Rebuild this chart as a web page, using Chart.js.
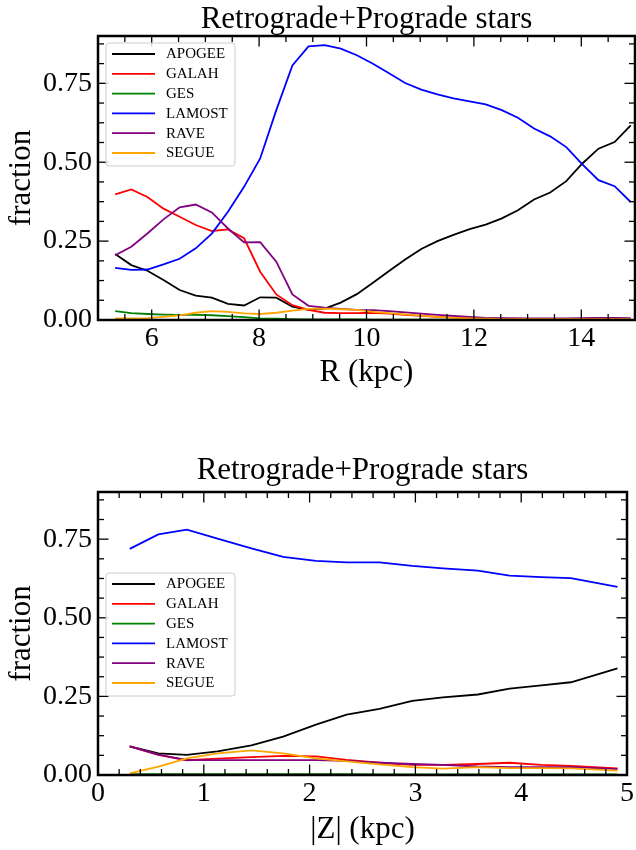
<!DOCTYPE html>
<html>
<head>
<meta charset="utf-8">
<script src="https://cdn.jsdelivr.net/npm/chart.js@4/dist/chart.umd.min.js"></script>
<style>
  html, body { margin: 0; padding: 0; background: #fff; }
  canvas { display: block; }
</style>
</head>
<body>
<canvas id="top" width="636" height="425"></canvas>
<canvas id="bottom" width="636" height="425"></canvas>
<script>
// ---------- DATA ----------
const surveys = ['APOGEE', 'GALAH', 'GES', 'LAMOST', 'RAVE', 'SEGUE'];
const colors = ['#000000', '#ff0000', '#008000', '#0000ff', '#800080', '#ffa500'];

// Top panel: fraction vs R (kpc)
const R = [5.32, 5.62, 5.92, 6.22, 6.52, 6.82, 7.12, 7.42, 7.72, 8.02, 8.32, 8.62, 8.92, 9.22, 9.52, 9.82,
           10.12, 10.42, 10.72, 11.02, 11.32, 11.62, 11.92, 12.22, 12.52, 12.82, 13.12, 13.42, 13.72, 14.02, 14.32, 14.62, 14.92];
const apogeeR = [0.209, 0.174, 0.156, 0.127, 0.095, 0.077, 0.071, 0.051, 0.046, 0.072, 0.071, 0.042, 0.032, 0.036, 0.055, 0.082,
                 0.118, 0.155, 0.192, 0.225, 0.250, 0.270, 0.288, 0.302, 0.322, 0.348, 0.382, 0.404, 0.440, 0.496, 0.543, 0.564, 0.617];
const galahR  = [0.398, 0.414, 0.390, 0.353, 0.327, 0.301, 0.282, 0.287, 0.259, 0.153, 0.081, 0.047, 0.032, 0.023, 0.022, 0.022,
                 0.023, 0.020, 0.016, 0.013, 0.010, 0.008, 0.006, 0.005, 0.004, 0.004, 0.003, 0.003, 0.003, 0.004, 0.005, 0.004, 0.003];
const gesR    = [0.028, 0.022, 0.019, 0.017, 0.016, 0.016, 0.015, 0.012, 0.009, 0.005, 0.004, 0.003, 0.002, 0.002, 0.002, 0.002,
                 0.001, 0.001, 0.001, 0.001, 0.001, 0.001, 0.001, 0.001, 0.001, 0.001, 0.001, 0.001, 0.001, 0.001, 0.001, 0.001, 0.001];
const lamostR = [0.165, 0.159, 0.160, 0.176, 0.194, 0.227, 0.274, 0.343, 0.422, 0.512, 0.665, 0.807, 0.867, 0.871, 0.860, 0.839,
                 0.812, 0.782, 0.751, 0.730, 0.715, 0.702, 0.693, 0.683, 0.665, 0.641, 0.607, 0.582, 0.548, 0.493, 0.443, 0.424, 0.374];
const raveR   = [0.205, 0.232, 0.274, 0.319, 0.357, 0.366, 0.341, 0.290, 0.246, 0.247, 0.185, 0.081, 0.045, 0.039, 0.035, 0.032,
                 0.031, 0.028, 0.024, 0.020, 0.016, 0.013, 0.010, 0.007, 0.006, 0.005, 0.005, 0.005, 0.005, 0.006, 0.007, 0.007, 0.006];
const segueR  = [0.005, 0.005, 0.006, 0.010, 0.015, 0.023, 0.028, 0.026, 0.021, 0.019, 0.023, 0.030, 0.035, 0.036, 0.034, 0.032,
                 0.026, 0.022, 0.018, 0.014, 0.010, 0.007, 0.005, 0.004, 0.003, 0.003, 0.003, 0.003, 0.003, 0.003, 0.003, 0.003, 0.003];

// Bottom panel: fraction vs |Z| (kpc)
const Z = [0.30, 0.57, 0.84, 1.13, 1.45, 1.75, 2.06, 2.35, 2.66, 2.97, 3.26, 3.59, 3.89, 4.19, 4.47, 4.91];
const apogeeZ = [0.091, 0.069, 0.064, 0.075, 0.094, 0.122, 0.160, 0.192, 0.210, 0.236, 0.247, 0.256, 0.275, 0.285, 0.295, 0.339];
const galahZ  = [0.091, 0.064, 0.047, 0.052, 0.057, 0.061, 0.059, 0.048, 0.039, 0.032, 0.032, 0.035, 0.039, 0.032, 0.029, 0.021];
const gesZ    = [0.003, 0.003, 0.003, 0.003, 0.003, 0.003, 0.003, 0.003, 0.002, 0.002, 0.002, 0.002, 0.002, 0.002, 0.002, 0.002];
const lamostZ = [0.719, 0.765, 0.780, 0.752, 0.721, 0.694, 0.681, 0.676, 0.676, 0.665, 0.657, 0.650, 0.634, 0.629, 0.626, 0.598];
const raveZ   = [0.091, 0.065, 0.047, 0.047, 0.047, 0.047, 0.047, 0.045, 0.039, 0.035, 0.032, 0.027, 0.025, 0.025, 0.025, 0.019];
const segueZ  = [0.005, 0.027, 0.053, 0.069, 0.078, 0.069, 0.053, 0.043, 0.034, 0.025, 0.020, 0.025, 0.022, 0.022, 0.021, 0.014];

// Tick labels
const yTicks = [0, 0.25, 0.5, 0.75];
const rTicks = [6, 8, 10, 12, 14];
const zTicks = [0, 1, 2, 3, 4, 5];

const titleText = 'Retrograde+Prograde stars';
const yTitle = 'fraction';
const rTitle = 'R (kpc)';
const zTitle = '|Z| (kpc)';

// ---------- RENDERING ----------
const FONT = "'Liberation Serif', 'Times New Roman', serif";

function makeDatasets(xs, series) {
  return series.map((ys, i) => ({
    label: surveys[i],
    data: xs.map((x, k) => ({ x: x, y: ys[k] })),
    borderColor: colors[i],
    backgroundColor: colors[i],
    borderWidth: 1.8,
    pointRadius: 0,
    tension: 0,
    fill: false,
    order: series.length - i
  }));
}

const frameTicks = {
  id: 'frameTicks',
  afterDatasetsDraw(chart, args, opts) {
    const { ctx, chartArea: a, scales: { x, y } } = chart;
    ctx.save();
    ctx.strokeStyle = '#000';
    const seg = (x1, y1, x2, y2) => { ctx.beginPath(); ctx.moveTo(x1, y1); ctx.lineTo(x2, y2); ctx.stroke(); };
    const eps = 1e-9;
    // x ticks
    ctx.lineWidth = 1.3;
    for (let v = x.min; v <= x.max + eps; v += opts.xMinor) {
      const vv = Math.round(v * 1000) / 1000;
      const isMajor = Math.abs(vv / opts.xMajor - Math.round(vv / opts.xMajor)) < 1e-6;
      const len = isMajor ? 10.5 : 6;
      const px = x.getPixelForValue(vv);
      seg(px, a.bottom, px, a.bottom - len);
      seg(px, a.top, px, a.top + len);
    }
    for (let v = y.min; v <= y.max + eps; v += opts.yMinor) {
      const vv = Math.round(v * 10000) / 10000;
      const isMajor = Math.abs(vv / opts.yMajor - Math.round(vv / opts.yMajor)) < 1e-6;
      const len = isMajor ? 10.5 : 6;
      const py = y.getPixelForValue(vv);
      seg(a.left, py, a.left + len, py);
      seg(a.right, py, a.right - len, py);
    }
    ctx.lineWidth = 2.5;
    ctx.strokeRect(a.left, a.top, a.right - a.left, a.bottom - a.top);
    ctx.restore();
  }
};

const boxLegend = {
  id: 'boxLegend',
  afterDraw(chart, args, opts) {
    const { ctx, chartArea: a } = chart;
    const ds = chart.data.datasets;
    const bx = a.left + opts.dx, by = a.top + opts.dy;
    const w = 129, rowH = 19.8, h = 123;
    ctx.save();
    ctx.beginPath();
    if (ctx.roundRect) ctx.roundRect(bx, by, w, h, 3); else ctx.rect(bx, by, w, h);
    ctx.fillStyle = 'rgba(255,255,255,0.8)';
    ctx.fill();
    ctx.strokeStyle = '#cccccc';
    ctx.lineWidth = 1;
    ctx.stroke();
    ctx.font = '15px ' + FONT;
    ctx.textBaseline = 'middle';
    ctx.textAlign = 'left';
    ds.forEach((d, i) => {
      const cy = by + 11 + i * rowH;
      ctx.strokeStyle = d.borderColor;
      ctx.lineWidth = 1.8;
      ctx.beginPath();
      ctx.moveTo(bx + 6, cy);
      ctx.lineTo(bx + 49, cy);
      ctx.stroke();
      ctx.fillStyle = '#000';
      ctx.fillText(d.label, bx + 60, cy + 0.5);
    });
    ctx.restore();
  }
};

function makeChart(id, xs, series, cfg) {
  return new Chart(document.getElementById(id), {
    type: 'line',
    data: { datasets: makeDatasets(xs, series) },
    plugins: [frameTicks, boxLegend],
    options: {
      responsive: false,
      devicePixelRatio: 1,
      animation: false,
      events: [],
      layout: { padding: { left: 0, right: cfg.padRight, top: 0, bottom: 0 } },
      plugins: {
        legend: { display: false },
        tooltip: { enabled: false },
        title: {
          display: true,
          text: titleText,
          fullSize: false,
          color: '#000',
          font: { family: FONT, size: 31, weight: 'normal', lineHeight: 1.0 },
          padding: { top: cfg.titleTop, bottom: cfg.titleBottom }
        },
        frameTicks: { xMinor: cfg.xMinor, xMajor: cfg.xMajor, yMinor: 0.0625, yMajor: 0.25 },
        boxLegend: { dx: 8, dy: cfg.legendDy }
      },
      scales: {
        x: {
          type: 'linear',
          min: cfg.xMin,
          max: cfg.xMax,
          grid: { display: false, drawTicks: false },
          border: { display: false },
          afterFit: s => { s.height = cfg.xHeight; },
          afterBuildTicks: s => { s.ticks = cfg.xTicks.map(v => ({ value: v })); },
          ticks: {
            color: '#000',
            font: { family: FONT, size: 28 },
            padding: cfg.xTickPad,
            maxRotation: 0,
            autoSkip: false,
            callback: v => String(v)
          },
          title: {
            display: true,
            text: cfg.xTitle,
            color: '#000',
            font: { family: FONT, size: 31 },
            padding: { top: 0, bottom: cfg.xTitleBottom }
          }
        },
        y: {
          type: 'linear',
          min: 0,
          max: 0.9,
          grid: { display: false, drawTicks: false },
          border: { display: false },
          afterFit: s => { s.width = 98; },
          afterBuildTicks: s => { s.ticks = yTicks.map(v => ({ value: v })); },
          ticks: {
            color: '#000',
            font: { family: FONT, size: 28 },
            padding: 6,
            autoSkip: false,
            callback: v => Number(v).toFixed(2)
          },
          title: {
            display: true,
            text: yTitle,
            color: '#000',
            font: { family: FONT, size: 31 },
            padding: { top: 3, bottom: 0 }
          }
        }
      }
    }
  });
}

makeChart('top', R, [apogeeR, galahR, gesR, lamostR, raveR, segueR], {
  padRight: 1, titleTop: 4, titleBottom: 1,
  xMin: 5, xMax: 15, xTicks: rTicks, xMinor: 0.5, xMajor: 2,
  xHeight: 105, xTickPad: 2, xTitle: rTitle, xTitleBottom: 34,
  legendDy: 7
});
makeChart('bottom', Z, [apogeeZ, galahZ, gesZ, lamostZ, raveZ, segueZ], {
  padRight: 8, titleTop: 30, titleBottom: 6,
  xMin: 0, xMax: 5, xTicks: zTicks, xMinor: 0.2, xMajor: 1,
  xHeight: 75, xTickPad: 2, xTitle: zTitle, xTitleBottom: 2,
  legendDy: 81
});
</script>
</body>
</html>
